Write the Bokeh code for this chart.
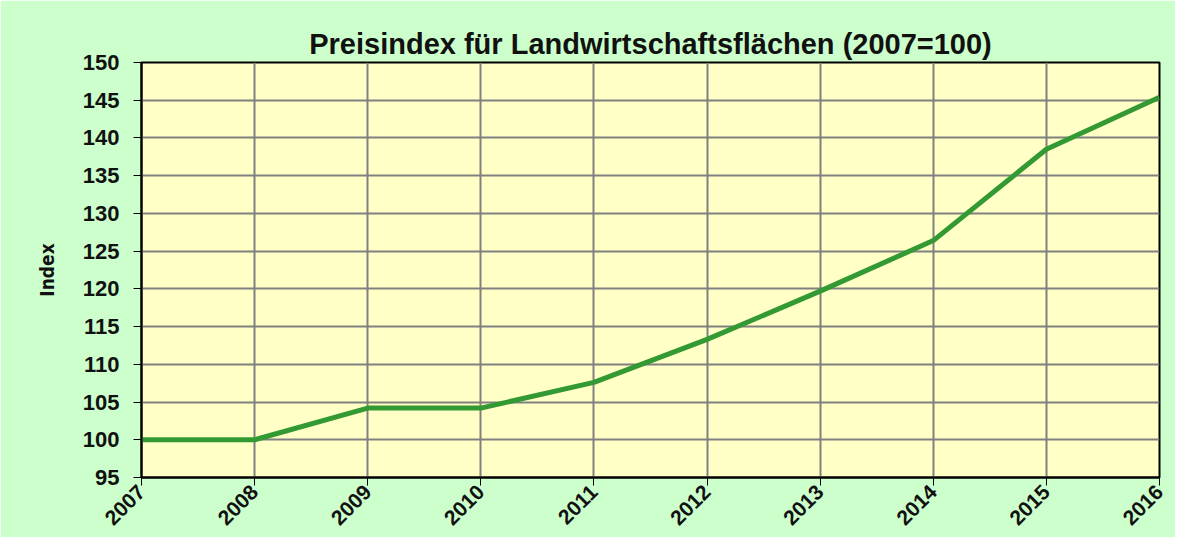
import math
from bokeh.plotting import figure
from bokeh.models import Range1d, FixedTicker, Title
from bokeh.embed import file_html
from bokeh.resources import INLINE

years = [2007, 2008, 2009, 2010, 2011, 2012, 2013, 2014, 2015, 2016]
index_values = [100.0, 100.0, 104.2, 104.2, 107.6, 113.3, 119.7, 126.4, 138.5, 145.4]
y_ticks = [95, 100, 105, 110, 115, 120, 125, 130, 135, 140, 145, 150]
title_text = "Preisindex für Landwirtschaftsflächen (2007=100)"
y_label = "Index"

p = figure(width=1175, height=537, output_backend="svg", toolbar_location=None,
           x_range=Range1d(2007, 2016), y_range=Range1d(95, 150),
           min_border_left=141, min_border_right=16, min_border_top=62, min_border_bottom=60)

p.background_fill_color = "#FFFFC6"
p.border_fill_color = "#CCFFCC"
p.outline_line_color = "black"
p.outline_line_width = 2

t = Title(text=title_text, align="center", text_font="Liberation Sans",
          text_font_size="29px", text_font_style="bold", text_color="#111111",
          standoff=6)
p.title = t

p.line(years, index_values, line_color="#339933", line_width=5)

for ax in (p.xaxis[0], p.yaxis[0]):
    ax.axis_line_color = "black"
    ax.axis_line_width = 2
    ax.major_tick_line_color = "black"
    ax.major_tick_line_width = 1
    ax.major_tick_out = 8
    ax.major_tick_in = 0
    ax.minor_tick_line_color = None
    ax.major_label_text_font = "Liberation Sans"
    ax.major_label_text_font_style = "bold"
    ax.major_label_text_color = "#111111"

p.xaxis.ticker = FixedTicker(ticks=years)
p.xaxis.major_label_orientation = math.pi / 4
p.xaxis.major_label_text_font_size = "21px"
p.xaxis.major_label_standoff = 3

p.yaxis.ticker = FixedTicker(ticks=y_ticks)
p.yaxis.major_label_text_font_size = "22px"
p.yaxis.major_label_standoff = 14
p.yaxis.axis_label = y_label
p.yaxis.axis_label_text_font = "DejaVu Sans Condensed"
p.yaxis.axis_label_text_font_style = "bold"
p.yaxis.axis_label_text_font_size = "19px"
p.yaxis.axis_label_text_color = "#111111"
p.yaxis.axis_label_standoff = 22

p.grid.grid_line_color = "#808080"
p.grid.grid_line_width = 2
p.grid.grid_line_alpha = 1.0

open("out.html", "w").write(file_html(p, INLINE))
